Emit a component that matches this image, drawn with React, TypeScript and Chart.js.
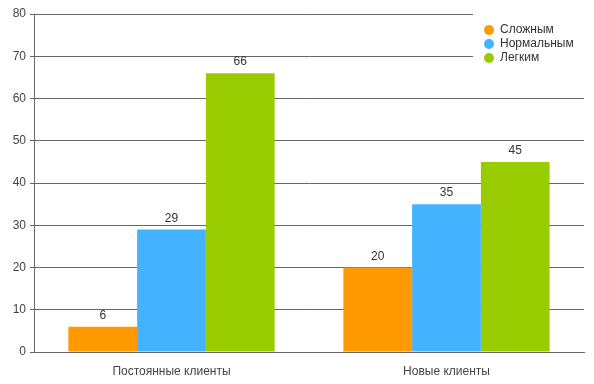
import React, { useEffect, useRef } from "react";
import { Chart, registerables } from "chart.js";

Chart.register(...registerables);

const categories = ["Постоянные клиенты", "Новые клиенты"];
const seriesNames = ["Сложным", "Нормальным", "Легким"];
const hardValues = [6, 20];
const normalValues = [29, 35];
const easyValues = [66, 45];
const colors = ["#FF9900", "#44B3FF", "#99CC00"];
const yMax = 80;
const yStep = 10;

const FONT = "Arial, 'Liberation Sans', sans-serif";

const labelsPlugin = {
  id: "valueLabels",
  afterDatasetsDraw(chart: any) {
    const ctx = chart.ctx;
    ctx.save();
    ctx.font = `12px ${FONT}`;
    ctx.fillStyle = "#333";
    ctx.textAlign = "center";
    ctx.textBaseline = "bottom";
    chart.data.datasets.forEach((ds: any, i: number) => {
      const meta = chart.getDatasetMeta(i);
      meta.data.forEach((el: any, j: number) => {
        ctx.fillText(String(ds.data[j]), el.x, el.y - 5);
      });
    });
    ctx.restore();
  },
};

const legendPlugin = {
  id: "customLegend",
  afterDraw(chart: any) {
    const ctx = chart.ctx;
    ctx.save();
    ctx.fillStyle = "#fff";
    ctx.fillRect(473, 0, 121, 70);
    ctx.font = `12px ${FONT}`;
    ctx.textAlign = "left";
    ctx.textBaseline = "middle";
    chart.data.datasets.forEach((ds: any, i: number) => {
      const cy = 30 + i * 14;
      ctx.beginPath();
      ctx.arc(489, cy, 5, 0, Math.PI * 2);
      ctx.fillStyle = ds.backgroundColor;
      ctx.fill();
      ctx.fillStyle = "#333";
      ctx.fillText(ds.label, 500, cy);
    });
    ctx.restore();
  },
};

export default function App() {
  const ref = useRef<HTMLCanvasElement>(null);
  useEffect(() => {
    const allValues = [hardValues, normalValues, easyValues];
    const chart = new Chart(ref.current!, {
      type: "bar",
      data: {
        labels: categories,
        datasets: seriesNames.map((name, i) => ({
          label: name,
          data: allValues[i],
          backgroundColor: colors[i],
          borderWidth: 0,
          categoryPercentage: 0.75,
          barPercentage: 1,
        })),
      },
      options: {
        animation: false,
        responsive: false,
        maintainAspectRatio: false,
        layout: { padding: { top: 14, right: 10, left: 0, bottom: 0 } },
        plugins: { legend: { display: false }, tooltip: { enabled: false } },
        scales: {
          x: {
            grid: { display: false },
            border: { display: true, color: "#666", width: 1 },
            ticks: { color: "#444", font: { size: 12, family: FONT }, padding: 4 },
            afterFit: (s: any) => {
              s.height = 32;
            },
          },
          y: {
            min: 0,
            max: yMax,
            ticks: {
              stepSize: yStep,
              color: "#444",
              font: { size: 12, family: FONT },
              padding: 4,
            },
            grid: { color: "#666", tickLength: 4, lineWidth: 1 },
            border: { display: true, color: "#666", width: 1 },
            afterFit: (s: any) => {
              s.width = 34;
            },
          },
        },
      },
      plugins: [labelsPlugin, legendPlugin],
    });
    return () => chart.destroy();
  }, []);
  return (
    <div style={{ position: "fixed", left: 0, top: 0, width: 594, height: 384, background: "#fff" }}>
      <canvas ref={ref} width={594} height={384} style={{ width: 594, height: 384 }} />
    </div>
  );
}
